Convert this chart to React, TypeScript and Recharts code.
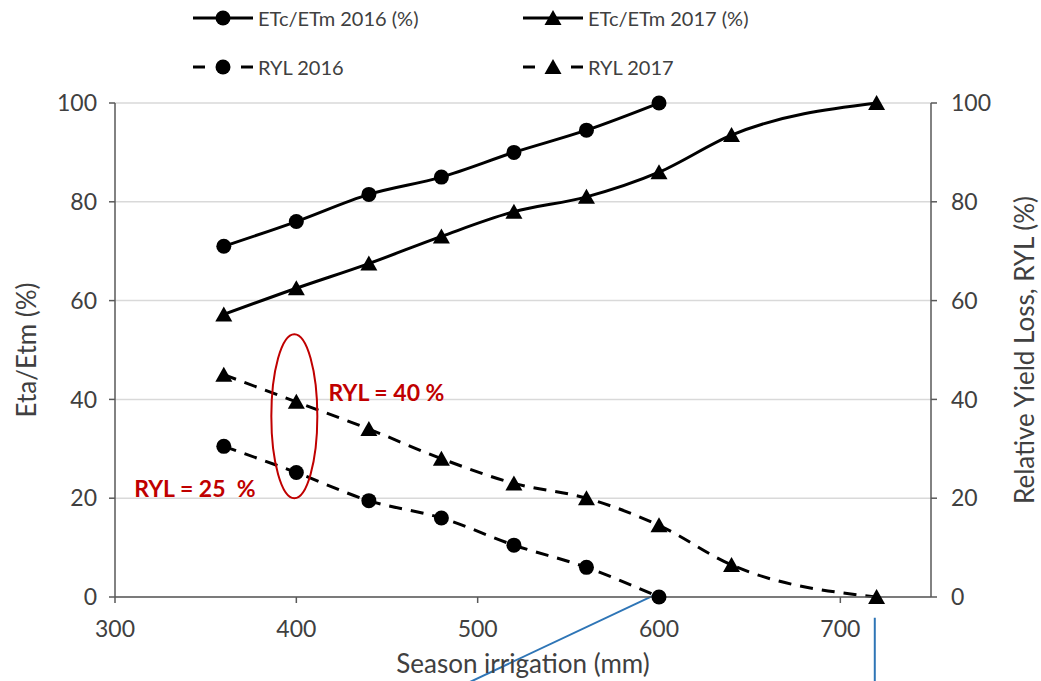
import React from 'react';
import {
  CartesianGrid,
  Line,
  LineChart,
  ReferenceDot,
  ReferenceLine,
  XAxis,
  YAxis,
} from 'recharts';

const irrigation2016 = [360, 400, 440, 480, 520, 560, 600];
const irrigation2017 = [360, 400, 440, 480, 520, 560, 600, 640, 720];
const etcEtm2016 = [71, 76, 81.5, 85, 90, 94.5, 100];
const etcEtm2017 = [57.2, 62.5, 67.5, 73, 78, 81, 86, 93.5, 100];
const ryl2016 = [30.5, 25.2, 19.5, 16, 10.5, 6, 0];
const ryl2017 = [45, 39.5, 34, 28, 23, 20, 14.5, 6.5, 0];
const xTicks = [300, 400, 500, 600, 700];
const yTicks = [0, 20, 40, 60, 80, 100];

const FONT = 'Lato, "Open Sans", sans-serif';
const AXIS = '#595959';
const RED = '#C00000';
const BLUE = '#2E75B6';

type Row = { x: number; etc2016?: number; etc2017?: number; ryl2016?: number; ryl2017?: number };

function buildRows(): Row[] {
  const map = new Map<number, Row>();
  const get = (x: number) => {
    if (!map.has(x)) map.set(x, { x });
    return map.get(x)!;
  };
  irrigation2016.forEach((x, i) => {
    get(x).etc2016 = etcEtm2016[i];
    get(x).ryl2016 = ryl2016[i];
  });
  irrigation2017.forEach((x, i) => {
    get(x).etc2017 = etcEtm2017[i];
    get(x).ryl2017 = ryl2017[i];
  });
  return [...map.values()].sort((a, b) => a.x - b.x);
}

const rows = buildRows();

const Circle = (p: any) =>
  p.cx == null || p.cy == null ? null : <circle key={p.key} cx={p.cx} cy={p.cy} r={7.5} fill="#000" />;

const Tri = (p: any) =>
  p.cx == null || p.cy == null ? null : (
    <path key={p.key} d={`M${p.cx},${p.cy - 8} L${p.cx + 8.5},${p.cy + 7} L${p.cx - 8.5},${p.cy + 7} Z`} fill="#000" />
  );

const legendItems = [
  { name: 'ETc/ETm 2016 (%)', dashed: false, tri: false, left: 193, top: 18 },
  { name: 'ETc/ETm 2017 (%)', dashed: false, tri: true, left: 523, top: 18 },
  { name: 'RYL 2016', dashed: true, tri: false, left: 193, top: 67 },
  { name: 'RYL 2017', dashed: true, tri: true, left: 523, top: 67 },
];

function LegendIcon({ dashed, tri }: { dashed: boolean; tri: boolean }) {
  return (
    <svg width={60} height={20} style={{ display: 'block' }}>
      {dashed ? (
        <>
          <line x1={0} y1={10} x2={12} y2={10} stroke="#000" strokeWidth={3} />
          <line x1={48} y1={10} x2={60} y2={10} stroke="#000" strokeWidth={3} />
        </>
      ) : (
        <line x1={0} y1={10} x2={60} y2={10} stroke="#000" strokeWidth={3} />
      )}
      {tri ? Tri({ cx: 30, cy: 10 }) : Circle({ cx: 30, cy: 10 })}
    </svg>
  );
}

export default function App() {
  return (
    <div style={{ position: 'absolute', left: 0, top: 0, width: 1041, height: 681, background: '#fff', fontFamily: FONT }}>
      {legendItems.map((it) => (
        <div
          key={it.name}
          style={{ position: 'absolute', left: it.left, top: it.top - 10, display: 'flex', alignItems: 'center', gap: 5, fontSize: 20, color: '#404040' }}
        >
          <LegendIcon dashed={it.dashed} tri={it.tri} />
          <span style={{ lineHeight: '20px' }}>{it.name}</span>
        </div>
      ))}
      <LineChart
        width={1041}
        height={681}
        data={rows}
        margin={{ top: 103, right: 50, bottom: 24, left: 55 }}
        style={{ position: 'absolute', left: 0, top: 0, fontFamily: FONT }}
      >
        <CartesianGrid yAxisId="left" vertical={false} stroke="#d9d9d9" strokeWidth={1.5} />
        <XAxis
          dataKey="x"
          type="number"
          domain={[300, 750]}
          ticks={xTicks}
          height={60}
          stroke={AXIS}
          strokeWidth={1.5}
          tickSize={6}
          tick={{ fill: '#404040', fontSize: 23, dy: 16 }}
          label={{ value: 'Season irrigation (mm)', position: 'insideBottom', offset: -16, fill: '#404040', fontSize: 26 }}
        />
        <YAxis
          yAxisId="left"
          domain={[0, 100]}
          ticks={yTicks}
          width={60}
          stroke={AXIS}
          strokeWidth={1.5}
          tickSize={6}
          tick={{ fill: '#404040', fontSize: 23, dx: -10 }}
          label={{ value: 'Eta/Etm (%)', angle: -90, position: 'insideLeft', offset: -28, fill: '#404040', fontSize: 26, style: { textAnchor: 'middle' } }}
        />
        <YAxis
          yAxisId="right"
          orientation="right"
          domain={[0, 100]}
          ticks={yTicks}
          width={60}
          stroke={AXIS}
          strokeWidth={1.5}
          tickSize={6}
          tick={{ fill: '#404040', fontSize: 23, dx: 12 }}
          label={{ value: 'Relative Yield Loss, RYL (%)', angle: -90, position: 'insideRight', offset: -34, fill: '#404040', fontSize: 26, style: { textAnchor: 'middle' } }}
        />
        <Line yAxisId="left" type="monotone" dataKey="etc2016" stroke="#000" strokeWidth={3} dot={Circle} connectNulls isAnimationActive={false} />
        <Line yAxisId="left" type="monotone" dataKey="etc2017" stroke="#000" strokeWidth={3} dot={Tri} connectNulls isAnimationActive={false} />
        <Line yAxisId="right" type="monotone" dataKey="ryl2016" stroke="#000" strokeWidth={3} strokeDasharray="13 9" dot={Circle} connectNulls isAnimationActive={false} />
        <Line yAxisId="right" type="monotone" dataKey="ryl2017" stroke="#000" strokeWidth={3} strokeDasharray="13 9" dot={Tri} connectNulls isAnimationActive={false} />
        <ReferenceLine
          yAxisId="left"
          segment={[{ x: 598, y: 0.5 }, { x: 494, y: -17.5 }]}
          stroke={BLUE}
          strokeWidth={2}
          ifOverflow="visible"
        />
        <ReferenceLine
          yAxisId="left"
          segment={[{ x: 719, y: -4.2 }, { x: 719, y: -17.5 }]}
          stroke={BLUE}
          strokeWidth={2}
          ifOverflow="visible"
        />
        <ReferenceDot
          yAxisId="left"
          x={400}
          y={36.6}
          ifOverflow="visible"
          shape={(p: any) => <ellipse cx={p.cx - 2} cy={p.cy} rx={23} ry={82} fill="none" stroke={RED} strokeWidth={2} />}
        />
        <ReferenceDot
          yAxisId="left"
          x={420}
          y={41.3}
          ifOverflow="visible"
          shape={(p: any) => (
            <text x={p.cx - 4} y={p.cy + 8} fill={RED} fontSize={23} fontWeight="bold" fontFamily={FONT}>
              RYL = 40 %
            </text>
          )}
        />
        <ReferenceDot
          yAxisId="left"
          x={310}
          y={21.8}
          ifOverflow="visible"
          shape={(p: any) => (
            <text x={p.cx + 1} y={p.cy + 8} fill={RED} fontSize={23} fontWeight="bold" fontFamily={FONT} style={{ whiteSpace: 'pre' }}>
              {'RYL = 25  %'}
            </text>
          )}
        />
      </LineChart>
    </div>
  );
}
